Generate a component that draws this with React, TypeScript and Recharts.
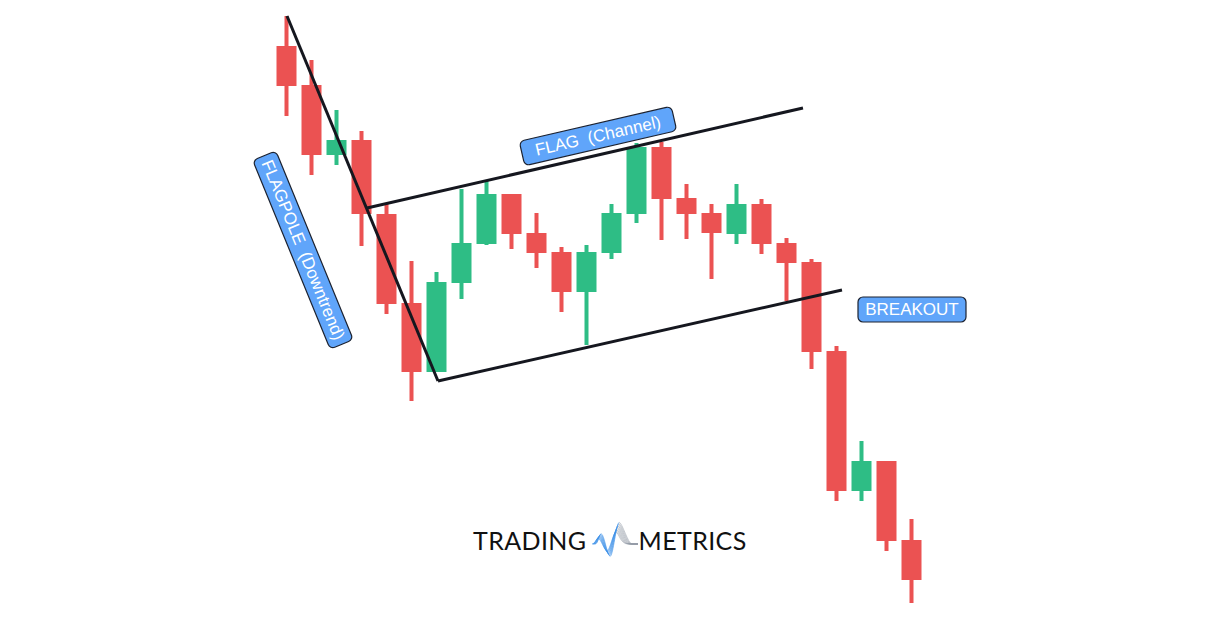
import React from 'react';
import { ComposedChart, Bar, XAxis, YAxis, ReferenceLine, ReferenceDot } from 'recharts';

// candle index 0..25, prices in chart points
const opens = [574, 535, 465, 480, 406, 317, 248, 337, 376, 426, 387, 368, 328, 367, 406, 473, 422, 407, 386, 416, 377, 358, 269, 129, 159, 80];
const highs = [604, 560, 510, 489, 416, 359, 348, 431, 439, 426, 407, 373, 375, 416, 477, 478, 436, 416, 436, 421, 382, 361, 274, 179, 159, 101];
const lows = [504, 445, 455, 374, 306, 219, 248, 321, 375, 371, 352, 308, 275, 361, 397, 380, 381, 341, 376, 366, 319, 251, 119, 119, 69, 17];
const closes = [534, 465, 480, 406, 316, 248, 338, 377, 426, 386, 367, 328, 368, 407, 473, 421, 406, 387, 416, 376, 357, 268, 129, 159, 79, 40];

// trend lines: [x0, y0, x1, y1] in index / price units
const flagpole = [0, 604, 6.04, 239];
const flagTop = [3.2, 412, 20.64, 512];
const flagBottom = [6.04, 239, 22.2, 330];

// annotation labels: text, x, y, angle, box width
const labels: [string, number, number, number, number][] = [
  ['FLAGPOLE  (Downtrend)', 0.64, 370, 67.7, 204],
  ['FLAG  (Channel)', 12.44, 484, -13, 156],
  ['BREAKOUT', 25, 310.5, 0, 108],
];

const UP = '#2EBD85';
const DOWN = '#EB5252';

const data = opens.map((o, i) => ({
  x: i,
  range: [lows[i], highs[i]],
  open: o,
  close: closes[i],
  high: highs[i],
  low: lows[i],
}));

const Candle = (props: any) => {
  const { x, y, width, height, payload } = props;
  const { open, close, high, low } = payload;
  const color = close >= open ? UP : DOWN;
  const span = high - low || 1;
  const ppu = height / span;
  const yOf = (v: number) => y + (high - v) * ppu;
  const top = yOf(Math.max(open, close));
  const bottom = yOf(Math.min(open, close));
  const cx = x + width / 2;
  return (
    <g>
      <rect x={cx - 2} y={y} width={4} height={Math.max(height, 1)} fill={color} />
      <rect x={x} y={top} width={width} height={Math.max(bottom - top, 1)} fill={color} />
    </g>
  );
};

const LabelBox = (text: string, angle: number, w: number) => (props: any) => {
  const { cx, cy } = props;
  const h = 25;
  return (
    <g transform={`translate(${cx},${cy}) rotate(${angle})`}>
      <rect x={-w / 2} y={-h / 2} width={w} height={h} rx={5} fill="#60A5FA" stroke="#1c2230" strokeWidth={1.2} />
      <text
        x={0}
        y={1}
        textAnchor="middle"
        dominantBaseline="middle"
        fill="#ffffff"
        fontFamily="Liberation Sans, Arial, sans-serif"
        fontSize={17}
        style={{ whiteSpace: 'pre' }}
      >
        {text}
      </text>
    </g>
  );
};

const Logo = () => {
  const strands = [0, 1, 2, 3, 4, 5, 6, 7, 8];
  return (
    <div
      style={{
        position: 'absolute',
        left: 473,
        top: 520,
        display: 'flex',
        alignItems: 'center',
        fontFamily: 'Lato, Inter, sans-serif',
        fontWeight: 400,
        fontSize: 25,
        color: '#111',
        letterSpacing: 0.4,
        height: 40,
      }}
    >
      <span>TRADING</span>
      <svg width={50} height={40} viewBox="0 0 50 40" style={{ margin: '0 1px' }}>
        {strands.map((k) => {
          const a = 0.55 + k * 0.06;
          const p1 = 24 - 10 * a;
          const t1 = 24 + 12 * a;
          const p2 = 24 - 21 * a;
          const sx = k * 0.4;
          return (
            <g key={k} fill="none" strokeWidth={0.5}>
              <path
                d={`M${4 + sx} 24 C${7 + sx} 24 ${8 + sx} ${p1} ${10 + sx} ${p1} C${13 + sx} ${p1} ${16 + sx} ${t1} ${19 + sx} ${t1} C${22 + sx} ${t1} ${25 + sx} ${p2} ${28 + sx} ${p2}`}
                stroke="#3a8ee6"
              />
              <path
                d={`M${28 + sx} ${p2} C${31 + sx} ${p2} ${32 + k} 24 ${40 + k * 0.5} 24 L50 24`}
                stroke="#8e96a3"
              />
            </g>
          );
        })}
      </svg>
      <span>METRICS</span>
    </div>
  );
};

export default function App() {
  const seg = (s: number[]) => [
    { x: s[0], y: s[1] },
    { x: s[2], y: s[3] },
  ];
  return (
    <div style={{ position: 'absolute', left: 0, top: 0, width: 1217, height: 619, background: '#fff' }}>
      <ComposedChart width={1217} height={619} data={data} margin={{ top: 0, right: 0, bottom: 0, left: 0 }}>
        <XAxis dataKey="x" type="number" domain={[-11.48, 37.2]} hide allowDataOverflow />
        <YAxis type="number" domain={[1, 620]} hide allowDataOverflow />
        <Bar dataKey="range" barSize={20} shape={<Candle />} isAnimationActive={false} />
        <ReferenceLine segment={seg(flagpole)} stroke="#15171f" strokeWidth={3} ifOverflow="visible" />
        <ReferenceLine segment={seg(flagTop)} stroke="#15171f" strokeWidth={3} ifOverflow="visible" />
        <ReferenceLine segment={seg(flagBottom)} stroke="#15171f" strokeWidth={3} ifOverflow="visible" />
        {labels.map(([t, lx, ly, a, w]) => (
          <ReferenceDot key={t} x={lx} y={ly} r={1} ifOverflow="visible" shape={LabelBox(t, a, w)} />
        ))}
      </ComposedChart>
      <Logo />
    </div>
  );
}
